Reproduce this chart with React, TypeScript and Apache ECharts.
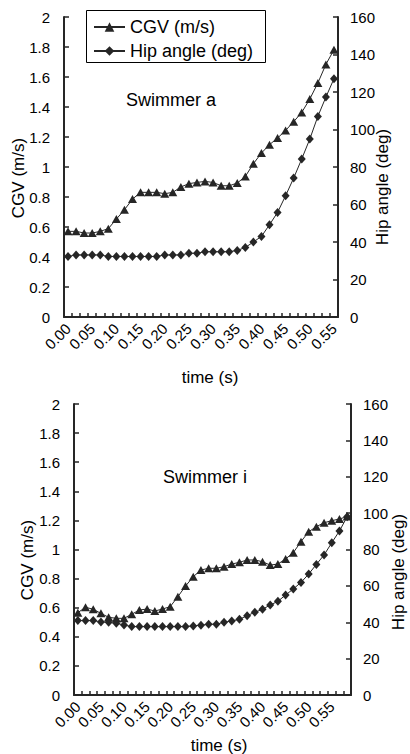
import React, { useEffect, useRef } from "react";
import * as echarts from "echarts";

// Time categories (s), 1/60 s steps
const timeA = [
  "0.00", "0.02", "0.03", "0.05", "0.07", "0.08", "0.10", "0.12", "0.13", "0.15",
  "0.17", "0.18", "0.20", "0.22", "0.23", "0.25", "0.27", "0.28", "0.30", "0.32",
  "0.33", "0.35", "0.37", "0.38", "0.40", "0.42", "0.43", "0.45", "0.47", "0.48",
  "0.50", "0.52", "0.53", "0.55",
];
const timeI = [
  "0.00", "0.02", "0.03", "0.05", "0.07", "0.08", "0.10", "0.12", "0.13", "0.15",
  "0.17", "0.18", "0.20", "0.22", "0.23", "0.25", "0.27", "0.28", "0.30", "0.32",
  "0.33", "0.35", "0.37", "0.38", "0.40", "0.42", "0.43", "0.45", "0.47", "0.48",
  "0.50", "0.52", "0.53", "0.55", "0.57", "0.58",
];

// Swimmer a
const cgvA = [
  0.571, 0.571, 0.56, 0.56, 0.571, 0.589, 0.653, 0.715, 0.786, 0.831,
  0.831, 0.831, 0.822, 0.831, 0.867, 0.889, 0.897, 0.904, 0.897, 0.875,
  0.875, 0.893, 0.937, 1.022, 1.093, 1.149, 1.193, 1.244, 1.302, 1.364,
  1.453, 1.56, 1.684, 1.782,
];
const hipA = [
  32.3, 33.1, 33.1, 33.1, 33.1, 32.3, 32.3, 32.3, 32.3, 32.3,
  32.3, 32.3, 33.1, 33.1, 33.1, 34.0, 34.0, 34.8, 34.8, 34.8,
  34.8, 35.5, 37.1, 40.0, 43.0, 49.2, 55.8, 64.7, 74.1, 84.3,
  94.9, 107.0, 117.3, 127.1,
];

// Swimmer i
const cgvI = [
  0.566, 0.603, 0.589, 0.561, 0.534, 0.527, 0.527, 0.555, 0.584, 0.591,
  0.577, 0.591, 0.607, 0.676, 0.749, 0.813, 0.859, 0.871, 0.871, 0.882,
  0.9, 0.912, 0.928, 0.928, 0.916, 0.893, 0.9, 0.935, 0.978, 1.054,
  1.122, 1.157, 1.184, 1.198, 1.21, 1.226,
];
const hipI = [
  40.9, 40.9, 40.9, 40.2, 40.0, 39.4, 38.5, 37.6, 37.6, 37.6,
  37.6, 37.6, 37.6, 37.6, 37.6, 38.0, 38.4, 38.9, 38.9, 40.0,
  40.7, 41.6, 43.6, 45.5, 47.1, 49.5, 51.5, 55.0, 58.3, 61.9,
  66.5, 71.8, 77.0, 83.7, 90.2, 98.0,
];

const FONT = "Liberation Sans";
const INK = "#262626";

const xAxisBase = (gridIndex: number, data: string[]) => ({
  type: "category",
  gridIndex,
  data,
  boundaryGap: true,
  axisLine: { lineStyle: { color: INK, width: 2 } },
  axisTick: { show: true, inside: true, interval: 0, length: 4, lineStyle: { color: INK, width: 1.5 } },
  axisLabel: { interval: 2, rotate: 45, fontSize: 15, color: "#000", fontFamily: FONT, margin: 9 },
  splitLine: { show: false },
});

const yLeft = (gridIndex: number) => ({
  type: "value",
  gridIndex,
  min: 0,
  max: 2,
  interval: 0.2,
  axisLine: { show: true, lineStyle: { color: INK, width: 2 } },
  axisTick: { show: true, inside: true, length: 5, lineStyle: { color: INK, width: 1.5 } },
  axisLabel: { fontSize: 15, color: "#000", fontFamily: FONT, margin: 14 },
  splitLine: { show: false },
});

const yRight = (gridIndex: number) => ({
  type: "value",
  gridIndex,
  position: "right",
  min: 0,
  max: 160,
  interval: 20,
  axisLine: { show: true, lineStyle: { color: INK, width: 2 } },
  axisTick: { show: true, inside: true, length: 5, lineStyle: { color: INK, width: 1.5 } },
  axisLabel: { fontSize: 15, color: "#000", fontFamily: FONT, margin: 12 },
  splitLine: { show: false },
});

const lineSeries = (name: string, data: number[], xi: number, yi: number, symbol: string, size: number[]) => ({
  name,
  type: "line",
  data,
  xAxisIndex: xi,
  yAxisIndex: yi,
  symbol,
  symbolSize: size,
  showAllSymbol: true,
  lineStyle: { color: INK, width: 1 },
  itemStyle: { color: INK },
});

const text = (t: string, x: number, y: number, size: number, rotation = 0) => ({
  type: "text",
  x,
  y,
  rotation,
  style: {
    text: t,
    fontSize: size,
    fontFamily: FONT,
    fontWeight: "normal",
    fill: "#000",
    align: "center",
    verticalAlign: "middle",
  },
});

export default function App() {
  const ref = useRef<HTMLDivElement>(null);
  useEffect(() => {
    if (!ref.current) return;
    const chart = echarts.init(ref.current, null, { renderer: "svg" });
    chart.setOption({
      animation: false,
      backgroundColor: "#fff",
      textStyle: { fontFamily: FONT },
      grid: [
        { left: 64, top: 17, width: 274, height: 300 },
        { left: 74, top: 404, width: 277, height: 291 },
      ],
      xAxis: [xAxisBase(0, timeA), xAxisBase(1, timeI)],
      yAxis: [yLeft(0), yRight(0), yLeft(1), yRight(1)],
      legend: {
        orient: "vertical",
        left: 93,
        top: 17,
        padding: 0,
        itemWidth: 31,
        itemHeight: 12,
        itemGap: 4,
        textStyle: { fontSize: 18, color: "#000", fontFamily: FONT, lineHeight: 20 },
        data: ["CGV (m/s)", "Hip angle (deg)"],
      },
      series: [
        lineSeries("CGV (m/s)", cgvA, 0, 0, "triangle", [9, 8]),
        lineSeries("Hip angle (deg)", hipA, 0, 1, "diamond", [8, 9]),
        lineSeries("CGV (m/s) ", cgvI, 1, 2, "triangle", [9, 8]),
        lineSeries("Hip angle (deg) ", hipI, 1, 3, "diamond", [8, 9]),
      ],
      graphic: [
        {
          type: "rect",
          shape: { x: 86.5, y: 10.5, width: 179, height: 52 },
          style: { fill: "none", stroke: "#000", lineWidth: 1 },
          z: 10,
        },
        text("Swimmer a", 171, 100, 18),
        text("Swimmer i", 205, 477, 18),
        text("time (s)", 210, 377, 17),
        text("time (s)", 219, 745, 17),
        text("CGV (m/s)", 18, 178, 17, Math.PI / 2),
        text("CGV (m/s)", 27, 560, 17, Math.PI / 2),
        text("Hip angle (deg)", 382, 187, 17, Math.PI / 2),
        text("Hip angle (deg)", 398, 572, 17, Math.PI / 2),
      ],
    });
    return () => chart.dispose();
  }, []);
  return (
    <div
      ref={ref}
      style={{ position: "fixed", left: 0, top: 0, width: 410, height: 754 }}
    />
  );
}
